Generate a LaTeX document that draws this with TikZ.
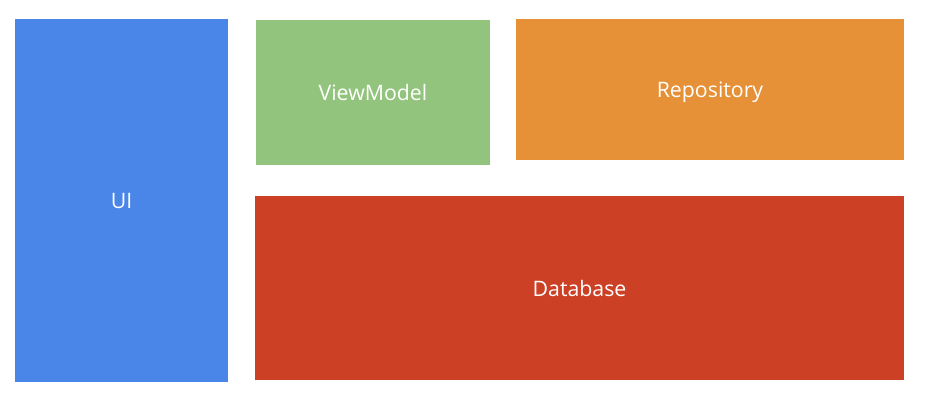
\documentclass[tikz,border=0pt]{standalone}
\usepackage{fontspec}
\setmainfont{Open Sans}
\definecolor{uiblue}{HTML}{4A86E8}
\definecolor{vmgreen}{HTML}{93C47D}
\definecolor{repoorange}{HTML}{E69138}
\definecolor{dbred}{HTML}{CC4125}
\begin{document}
\begin{tikzpicture}[x=1pt,y=-1pt,
  blk/.style={inner sep=0pt, text=white, font=\fontsize{21.3}{25}\selectfont}]
\useasboundingbox (0,0) rectangle (927,400);
\fill[white] (0,0) rectangle (927,400);
\fill[uiblue] (15,19) rectangle (228,382);
\fill[vmgreen] (256,20) rectangle (490,165);
\fill[repoorange] (516,19) rectangle (904,160);
\fill[dbred] (255,196) rectangle (904,380);
\node[blk] (ui) at (121.5,201) {UI};
\node[blk] (vm) at (373,93) {ViewModel};
\node[blk] (repo) at (710,92) {Repository};
\node[blk] (db) at (579.5,288.5) {Database};
\end{tikzpicture}
\end{document}
